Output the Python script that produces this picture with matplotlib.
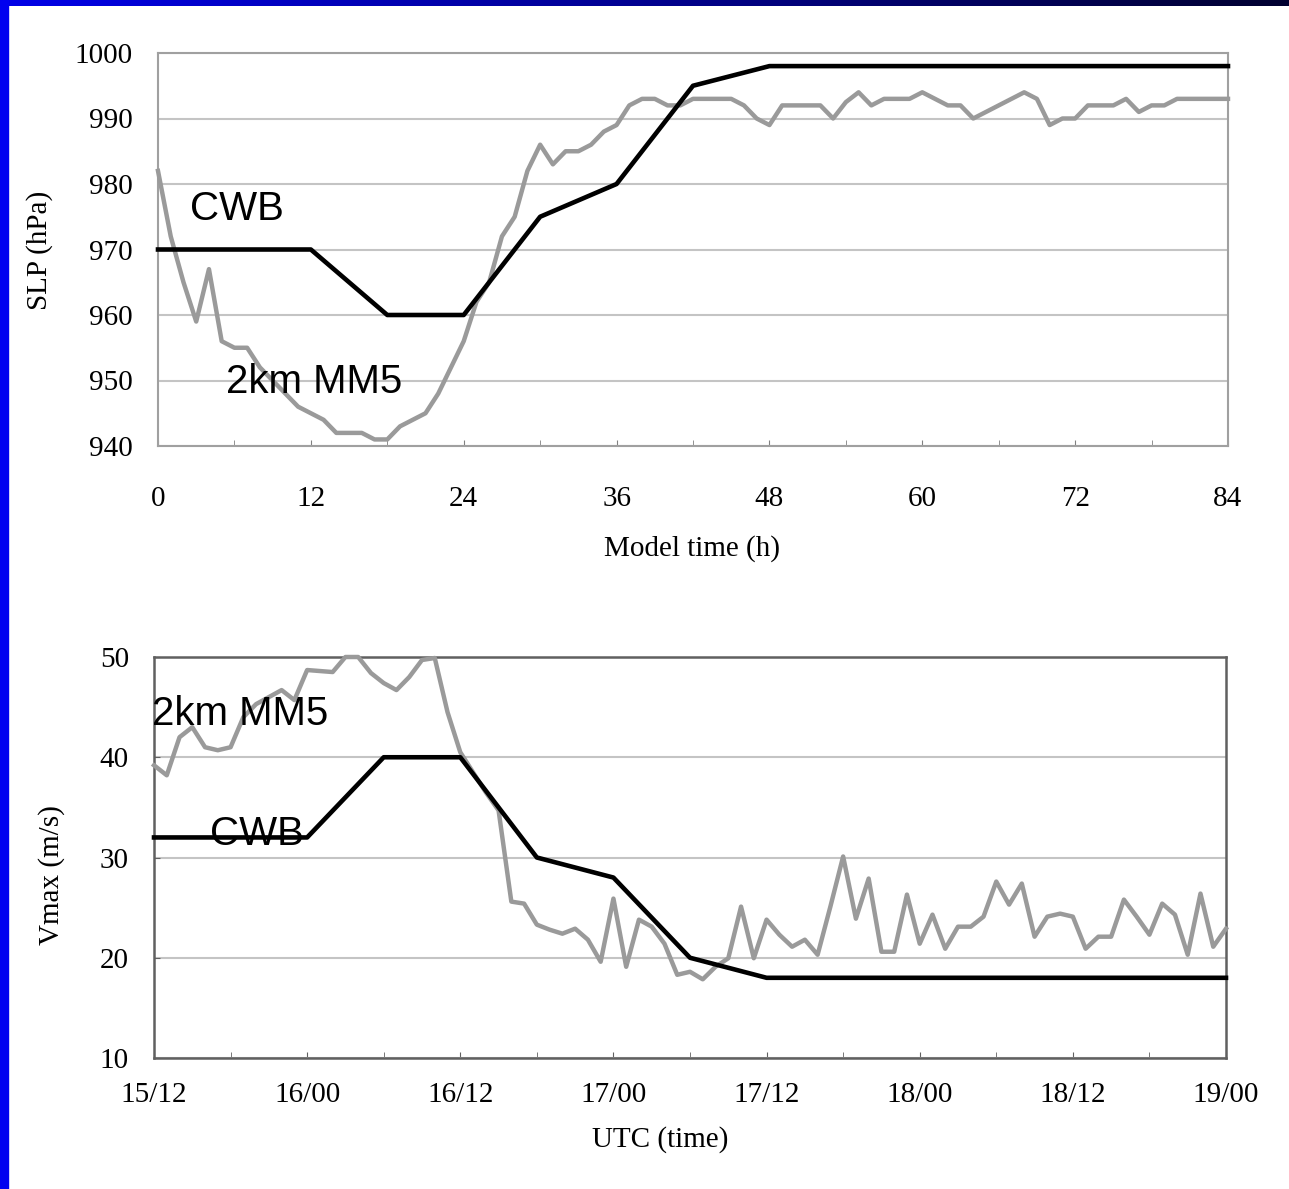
import numpy as np
import matplotlib.pyplot as plt
from matplotlib.patches import Rectangle

# model time (hours), hourly output
hours = np.arange(0, 85)

# sea level pressure (hPa), 2km MM5
slp_mm5 = [982, 972, 965, 959, 967, 956, 955, 955, 952, 950,
           948, 946, 945, 944, 942, 942, 942, 941, 941, 943,
           944, 945, 948, 952, 956, 962, 965, 972, 975, 982,
           986, 983, 985, 985, 986, 988, 989, 992, 993, 993,
           992, 992, 993, 993, 993, 993, 992, 990, 989, 992,
           992, 992, 992, 990, 992.5, 994, 992, 993, 993, 993,
           994, 993, 992, 992, 990, 991, 992, 993, 994, 993,
           989, 990, 990, 992, 992, 992, 993, 991, 992, 992,
           993, 993, 993, 993, 993]

# CWB best track (6-hourly)
cwb_hours = [0, 6, 12, 18, 24, 30, 36, 42, 48, 54, 60, 66, 72, 78, 84]
slp_cwb = [970, 970, 970, 960, 960, 975, 980, 995, 998, 998, 998, 998, 998, 998, 998]
vmax_cwb = [32, 32, 32, 40, 40, 30, 28, 20, 18, 18, 18, 18, 18, 18, 18]

# max wind (m/s), 2km MM5
vmax_mm5 = [39.2, 38.2, 42.0, 43.0, 41.0, 40.7, 41.0, 44.0, 45.3, 46.0,
            46.7, 45.7, 48.7, 48.6, 48.5, 50.0, 50.0, 48.4, 47.4, 46.7,
            48.0, 49.7, 49.9, 44.5, 40.5, 38.5, 36.5, 34.7, 25.6, 25.4,
            23.3, 22.8, 22.4, 22.9, 21.8, 19.6, 25.9, 19.1, 23.8, 23.1,
            21.4, 18.3, 18.6, 17.85, 19.1, 19.95, 25.1, 19.95, 23.8, 22.3,
            21.1, 21.8, 20.3, 25.1, 30.1, 23.9, 27.9, 20.6, 20.6, 26.3,
            21.4, 24.3, 20.9, 23.1, 23.1, 24.1, 27.6, 25.3, 27.4, 22.1,
            24.1, 24.4, 24.1, 20.9, 22.1, 22.1, 25.8, 24.1, 22.3, 25.4,
            24.3, 20.3, 26.4, 21.1, 22.9]

utc_labels = ['15/12', '16/00', '16/12', '17/00', '17/12', '18/00', '18/12', '19/00']

serif = 'Liberation Serif'
sans = 'Liberation Sans'
gray = '#9a9a9a'

fig = plt.figure(figsize=(12.89, 11.89), dpi=100)

# slide frame: blue strip on the left and gradient bar at the top
fig.patches.append(Rectangle((0, 0), 8 / 1289, 1, transform=fig.transFigure,
                             color='#0000f0', zorder=0))
bar = fig.add_axes([0, 1 - 6 / 1189, 1, 6 / 1189])
bar.imshow(np.linspace(0, 1, 256)[None, :], aspect='auto',
           cmap=plt.matplotlib.colors.LinearSegmentedColormap.from_list(
               'b', ['#0000e8', '#000090', '#000030']))
bar.axis('off')

# ---- top panel: SLP ----
ax1 = fig.add_axes([158 / 1289, 1 - 446 / 1189, 1070 / 1289, 393 / 1189])
ax1.plot(hours, slp_mm5, color=gray, lw=3.2, zorder=3, clip_on=False)
ax1.plot(cwb_hours, slp_cwb, color='black', lw=3.3, zorder=4, clip_on=False)
ax1.set_xlim(0, 84)
ax1.set_ylim(940, 1000)
ax1.set_xticks(range(0, 85, 12))
ax1.set_xticks(range(0, 85, 6), minor=True)
ax1.set_yticks(range(940, 1001, 10))
ax1.grid(axis='y', color='#c4c4c4', lw=1.5)
ax1.tick_params(axis='x', which='both', direction='in', length=4, color='#808080')
ax1.tick_params(axis='x', which='major', pad=29, labelsize=21)
ax1.tick_params(axis='y', direction='in', length=0, pad=18, labelsize=21)
for s in ax1.spines.values():
    s.set_color('#a0a0a0')
    s.set_linewidth(1.5)
for lab in ax1.get_xticklabels() + ax1.get_yticklabels():
    lab.set_family(serif)
ax1.text(2.5, 974.5, 'CWB', family=sans, fontsize=29, va='baseline')
ax1.text(5.3, 948.1, '2km MM5', family=sans, fontsize=29, va='baseline')
fig.text(40 / 1289, 1 - 250 / 1189, 'SLP (hPa)', family=serif, fontsize=21,
         rotation=90, ha='center', va='center')
fig.text(692 / 1289, 1 - 549 / 1189, 'Model time (h)', family=serif, fontsize=21,
         ha='center', va='center')

# ---- bottom panel: Vmax ----
ax2 = fig.add_axes([154 / 1289, 1 - 1058 / 1189, 1072 / 1289, 401 / 1189])
ax2.plot(hours, vmax_mm5, color=gray, lw=3.2, zorder=3, clip_on=False)
ax2.plot(cwb_hours, vmax_cwb, color='black', lw=3.3, zorder=4, clip_on=False)
ax2.set_xlim(0, 84)
ax2.set_ylim(10, 50)
ax2.set_xticks(range(0, 85, 12))
ax2.set_xticklabels(utc_labels)
ax2.set_xticks(range(0, 85, 6), minor=True)
ax2.set_yticks(range(10, 51, 10))
ax2.grid(axis='y', color='#c4c4c4', lw=1.5)
ax2.tick_params(axis='x', which='both', direction='in', length=4, color='#606060')
ax2.tick_params(axis='x', which='major', pad=17, labelsize=21)
ax2.tick_params(axis='y', direction='in', length=4, color='#606060', pad=18, labelsize=21)
for s in ax2.spines.values():
    s.set_color('#606060')
    s.set_linewidth(1.8)
for lab in ax2.get_xticklabels() + ax2.get_yticklabels():
    lab.set_family(serif)
ax2.text(-0.15, 43.2, '2km MM5', family=sans, fontsize=29, va='baseline', zorder=5)
ax2.text(4.4, 31.25, 'CWB', family=sans, fontsize=29, va='baseline', zorder=5)
fig.text(52 / 1289, 1 - 875 / 1189, 'Vmax (m/s)', family=serif, fontsize=21,
         rotation=90, ha='center', va='center')
fig.text(660 / 1289, 1 - 1140 / 1189, 'UTC (time)', family=serif, fontsize=21,
         ha='center', va='center')

fig.savefig('out.png', dpi=100)
